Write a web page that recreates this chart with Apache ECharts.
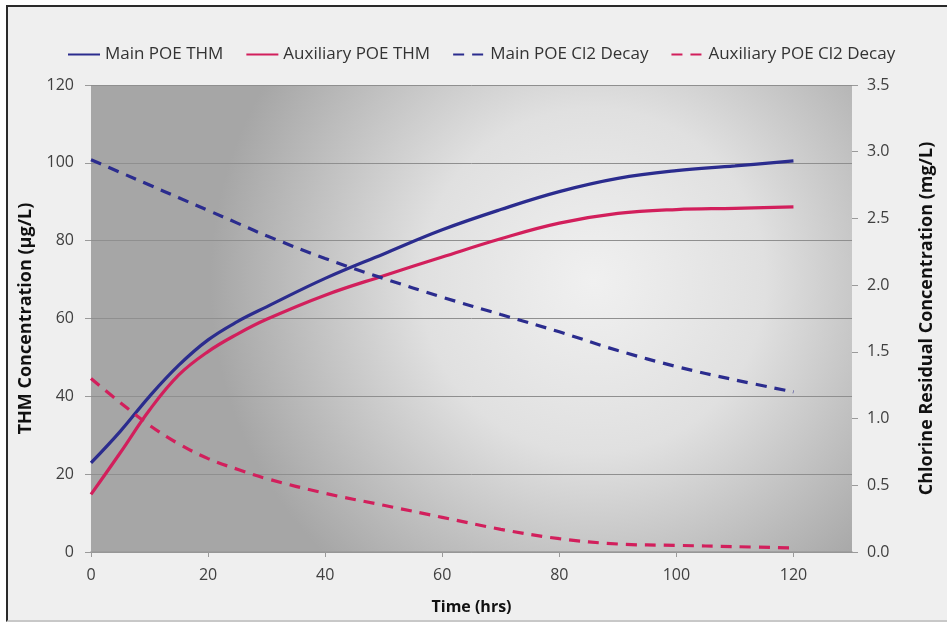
<!DOCTYPE html>
<html>
<head>
    <meta charset="utf-8" />
    <title>THM and chlorine decay</title>
    <script src="https://cdn.jsdelivr.net/npm/echarts@6/dist/echarts.min.js"></script>
    <style>
        body { margin: 0; background: #ffffff; overflow: hidden; }
        #frame {
            position: absolute; left: 6px; top: 5px; width: 990px; height: 613px;
            border: 2px solid #2a2a2a; border-bottom-color: #c8c8c8; background: #efefef;
        }
        #chart { position: absolute; left: 0; top: 0; width: 947px; height: 625px; }
    </style>
</head>
<body>
    <div id="frame"></div>
    <div id="chart"></div>
    <script>
        // time in hours
        var times = [0, 5, 10, 15, 20, 25, 30, 40, 50, 60, 70, 80, 90, 100, 110, 120];
        // THM (ug/L)
        var mainThm = [22.9, 31.0, 40.0, 48.0, 54.5, 59.2, 63.0, 70.3, 76.6, 82.8, 88.0, 92.6, 96.0, 98.0, 99.2, 100.5];
        var auxThm = [14.8, 25.5, 36.5, 45.5, 51.5, 56.0, 59.8, 66.0, 71.0, 75.8, 80.5, 84.5, 87.0, 88.0, 88.3, 88.7];
        // chlorine residual (mg/L)
        var mainCl = [2.94, 2.845, 2.75, 2.655, 2.56, 2.465, 2.37, 2.20, 2.05, 1.91, 1.78, 1.65, 1.51, 1.39, 1.29, 1.20];
        var auxCl = [1.30, 1.12, 0.95, 0.81, 0.70, 0.62, 0.55, 0.44, 0.35, 0.26, 0.17, 0.10, 0.06, 0.05, 0.04, 0.03];
        var seriesNames = ['Main POE THM', 'Auxiliary POE THM', 'Main POE Cl2 Decay', 'Auxiliary POE Cl2 Decay'];

        var navy = '#2b2c8e';
        var crimson = '#d21f5c';
        var font = '"Open Sans", "Noto Sans", sans-serif';

        function pairs(vals) {
            return times.map(function (t, i) { return [t, vals[i]]; });
        }

        function makeSeries(name, vals, color, dashed, axisIdx) {
            return {
                name: name,
                type: 'line',
                yAxisIndex: axisIdx,
                smooth: 0.4,
                symbol: 'none',
                data: pairs(vals),
                lineStyle: { color: color, width: 3.2, type: dashed ? [11, 8] : 'solid' },
                itemStyle: { color: color }
            };
        }

        var chart = echarts.init(document.getElementById('chart'));
        chart.setOption({
            backgroundColor: 'transparent',
            textStyle: { fontFamily: font },
            animation: false,
            legend: {
                top: 41,
                left: 62,
                itemWidth: 32,
                itemHeight: 12,
                itemGap: 22,
                itemStyle: { opacity: 0 },
                textStyle: { fontSize: 17, color: '#333', fontFamily: font },
                data: seriesNames
            },
            grid: {
                left: 91, right: 95, top: 85, bottom: 73,
                show: true,
                borderWidth: 0,
                backgroundColor: {
                    type: 'radial', x: 0.66, y: 0.42, r: 0.82,
                    colorStops: [
                        { offset: 0, color: '#f0f0f0' },
                        { offset: 0.45, color: '#e0e0e0' },
                        { offset: 1, color: '#a6a6a6' }
                    ]
                }
            },
            xAxis: {
                type: 'value',
                min: 0, max: 130, interval: 20,
                name: 'Time (hrs)',
                nameLocation: 'middle',
                nameGap: 47,
                nameTextStyle: { fontSize: 16, fontWeight: 'bold', color: '#111' },
                axisLine: { lineStyle: { color: '#9a9a9a', width: 1.5 } },
                axisTick: { length: 5, lineStyle: { color: '#9a9a9a' } },
                axisLabel: { fontSize: 16, color: '#404040', margin: 15, showMaxLabel: false },
                splitLine: { show: false }
            },
            yAxis: [{
                type: 'value',
                min: 0, max: 120, interval: 20,
                name: 'THM Concentration (μg/L)',
                nameLocation: 'middle',
                nameGap: 56,
                nameTextStyle: { fontSize: 18, fontWeight: 'bold', color: '#111' },
                axisLine: { show: false },
                axisTick: { show: true, length: 6, lineStyle: { color: '#9a9a9a' } },
                axisLabel: { fontSize: 16, color: '#404040', margin: 17 },
                splitLine: { lineStyle: { color: '#8f8f8f', width: 1 } }
            }, {
                type: 'value',
                min: 0, max: 3.5, interval: 0.5,
                name: 'Chlorine Residual Concentration (mg/L)',
                nameLocation: 'middle',
                nameGap: 66,
                nameRotate: 90,
                nameTextStyle: { fontSize: 18, fontWeight: 'bold', color: '#111' },
                axisLine: { show: false },
                axisTick: { show: true, length: 6, lineStyle: { color: '#9a9a9a' } },
                axisLabel: {
                    fontSize: 16, color: '#404040', margin: 15,
                    formatter: function (v) { return v.toFixed(1); }
                },
                splitLine: { show: false }
            }],
            series: [
                makeSeries(seriesNames[0], mainThm, navy, false, 0),
                makeSeries(seriesNames[1], auxThm, crimson, false, 0),
                makeSeries(seriesNames[2], mainCl, navy, true, 1),
                makeSeries(seriesNames[3], auxCl, crimson, true, 1)
            ]
        });
    </script>
</body>
</html>
